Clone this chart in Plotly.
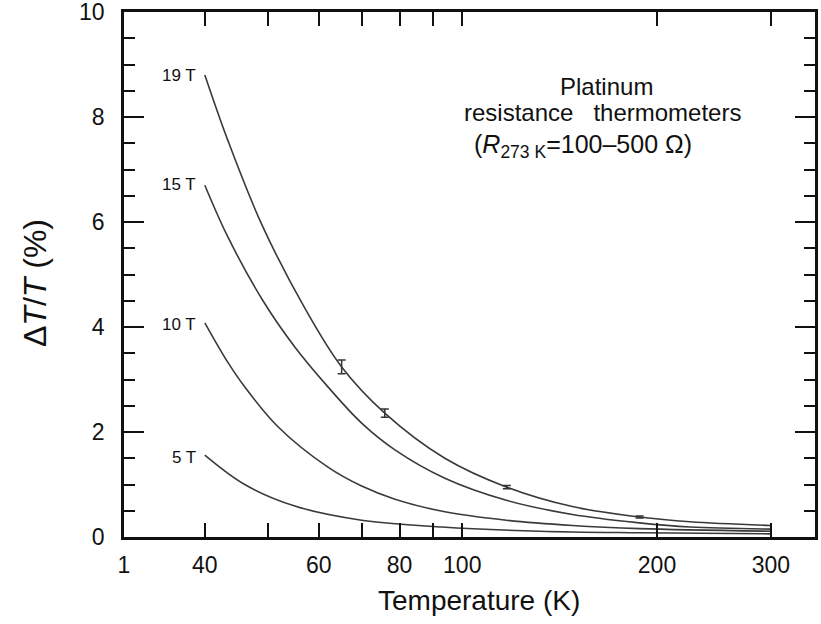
import math
import plotly.graph_objects as go

# ---- data ----
T19 = [40, 43.4, 49, 57.1, 65.1, 75.9, 94, 117.2, 148, 188, 225, 300]
V19 = [8.80, 7.56, 5.95, 4.36, 3.24, 2.36, 1.50, 0.95, 0.58, 0.38, 0.29, 0.22]

T15 = [40, 43.4, 49.2, 55.1, 62, 69.9, 78.7, 94, 117, 148, 188, 225, 300]
V15 = [6.70, 5.72, 4.50, 3.62, 2.86, 2.17, 1.66, 1.12, 0.70, 0.43, 0.27, 0.19, 0.15]

T10 = [40, 43.4, 46.1, 51.9, 62, 69.9, 78.7, 94, 117, 148, 188, 300]
V10 = [4.08, 3.33, 2.86, 2.10, 1.33, 0.97, 0.72, 0.48, 0.32, 0.22, 0.16, 0.11]

T5 = [40, 46.1, 55.1, 69.9, 93, 131.8, 188, 300]
V5 = [1.56, 1.00, 0.59, 0.32, 0.19, 0.11, 0.08, 0.06]

err_T = [65.1, 75.9, 117.2, 188]
err_V = [3.24, 2.36, 0.95, 0.38]
err_E = [0.13, 0.08, 0.03, 0.02]

curve_labels = ["19 T", "15 T", "10 T", "5 T"]
label_y = [8.8, 6.72, 4.05, 1.52]

x_tickvals = [30, 40, 60, 80, 100, 200, 300]
x_ticktext = ["1", "40", "60", "80", "100", "200", "300"]
x_minor_tickvals = [50, 70, 90]
x_range = [30, 351]

FONT = "Liberation Sans, Arial, Helvetica, sans-serif"
LINE = "#3a3a3a"

fig = go.Figure()
for T, V in [(T19, V19), (T15, V15), (T10, V10), (T5, V5)]:
    fig.add_trace(go.Scatter(x=T, y=V, mode="lines",
                             line=dict(color=LINE, width=1.6, shape="spline", smoothing=1.0),
                             showlegend=False, hoverinfo="skip"))

fig.add_trace(go.Scatter(x=err_T, y=err_V, mode="markers",
                         marker=dict(size=1, color=LINE),
                         error_y=dict(type="data", array=err_E, visible=True,
                                      color="#333", thickness=1.5, width=4),
                         showlegend=False, hoverinfo="skip"))

for txt, yv in zip(curve_labels, label_y):
    fig.add_annotation(x=(198 - 124) / 691, xref="paper", y=yv, yref="y",
                       text=txt, showarrow=False, xanchor="right", yanchor="middle",
                       font=dict(family=FONT, size=17, color="#111"))

fig.add_annotation(x=(606 - 124) / 691, y=(537 - 86) / 525, xref="paper", yref="paper",
                   text="Platinum", showarrow=False, xanchor="center", yanchor="middle",
                   font=dict(family=FONT, size=24, color="#111"))
fig.add_annotation(x=(602 - 124) / 691, y=(537 - 112) / 525, xref="paper", yref="paper",
                   text="resistance\u00a0\u00a0\u00a0thermometers", showarrow=False,
                   xanchor="center", yanchor="middle",
                   font=dict(family=FONT, size=24, color="#111"))
fig.add_annotation(x=(583 - 124) / 691, y=(537 - 146) / 525, xref="paper", yref="paper",
                   text="(<i>R</i><sub>273 K</sub>=100–500 Ω)", showarrow=False,
                   xanchor="center", yanchor="middle",
                   font=dict(family=FONT, size=25, color="#111"))

# axis titles
fig.add_annotation(x=(479 - 124) / 691, y=-(600 - 537) / 525, xref="paper", yref="paper",
                   text="Temperature (K)", showarrow=False, xanchor="center", yanchor="middle",
                   font=dict(family=FONT, size=28, color="#111"))
fig.add_annotation(x=(35 - 124) / 691, y=(537 - 283) / 525, xref="paper", yref="paper",
                   text="Δ<i>T</i>/<i>T</i> (%)", showarrow=False, textangle=-90,
                   xanchor="center", yanchor="middle",
                   font=dict(family=FONT, size=32, color="#111"))

fig.update_xaxes(type="log", range=[math.log10(x_range[0]), math.log10(x_range[1])],
                 tickmode="array", tickvals=x_tickvals, ticktext=x_ticktext,
                 ticks="inside", ticklen=14, tickwidth=1.6, tickcolor="#111",
                 minor=dict(tickmode="array", tickvals=x_minor_tickvals, ticks="inside",
                            ticklen=14, tickwidth=1.6, tickcolor="#111", showgrid=False),
                 showline=True, linecolor="#111", linewidth=2.5, mirror="allticks",
                 showgrid=False, zeroline=False, ticklabelstandoff=6,
                 ticklabeloverflow="allow", automargin=False,
                 tickfont=dict(family=FONT, size=23, color="#111"))
fig.update_yaxes(range=[0, 10], tickmode="array", tickvals=[0, 2, 4, 6, 8, 10],
                 ticks="inside", ticklen=20, tickwidth=1.6, tickcolor="#111",
                 minor=dict(dtick=0.5, tick0=0, ticks="inside", ticklen=11,
                            tickwidth=1.6, tickcolor="#111", showgrid=False),
                 showline=True, linecolor="#111", linewidth=2.5, mirror="allticks",
                 showgrid=False, zeroline=False, ticklabelstandoff=12,
                 ticklabeloverflow="allow", automargin=False,
                 tickfont=dict(family=FONT, size=23, color="#111"))

fig.update_layout(width=821, height=624, autosize=False,
                  margin=dict(l=124, r=6, t=12, b=87),
                  paper_bgcolor="white", plot_bgcolor="white")

fig.write_html("out.html")
